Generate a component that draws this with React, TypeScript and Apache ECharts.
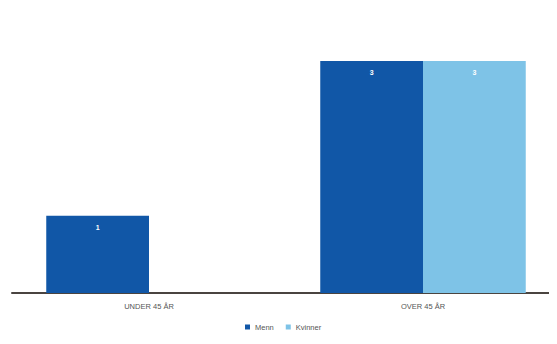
import React, { useEffect, useRef } from "react";
import * as echarts from "echarts";

const categories = ["UNDER 45 ÅR", "OVER 45 ÅR"];
const menn = [1, 3];
const kvinner = [0, 3];

export default function App() {
  const ref = useRef<HTMLDivElement>(null);
  useEffect(() => {
    if (!ref.current) return;
    const chart = echarts.init(ref.current, null, { renderer: "svg" });
    const label = {
      show: true,
      position: "insideTop",
      distance: 8,
      color: "#ffffff",
      fontSize: 7,
      fontWeight: "bold",
      fontFamily: "Liberation Sans",
      formatter: (p: any) => (p.value ? String(p.value) : ""),
    };
    chart.setOption({
      animation: false,
      backgroundColor: "#ffffff",
      grid: { left: 12, width: 548, top: 61, bottom: 51, containLabel: false },
      xAxis: {
        type: "category",
        data: categories,
        axisLine: { show: true, lineStyle: { color: "#4a4440", width: 2 } },
        axisTick: { show: false },
        axisLabel: {
          color: "#555555",
          fontSize: 7.5,
          fontFamily: "Liberation Sans",
          margin: 9,
        },
      },
      yAxis: {
        type: "value",
        min: 0,
        max: 3,
        show: false,
        splitLine: { show: false },
      },
      legend: {
        top: 318,
        left: 240,
        itemWidth: 5,
        itemHeight: 5,
        itemGap: 12,
        icon: "rect",
        textStyle: { color: "#555555", fontSize: 7.5, fontFamily: "Liberation Sans" },
        data: ["Menn", "Kvinner"],
      },
      series: [
        {
          name: "Menn",
          type: "bar",
          data: menn,
          itemStyle: { color: "#1157a7" },
          barGap: "0%",
          barCategoryGap: "25%",
          label,
        },
        {
          name: "Kvinner",
          type: "bar",
          data: kvinner,
          itemStyle: { color: "#7ec3e7" },
          barGap: "0%",
          barCategoryGap: "25%",
          label,
        },
      ],
    });
    return () => chart.dispose();
  }, []);
  return (
    <div style={{ width: 557, height: 344, margin: -8, overflow: "hidden" }}>
      <div ref={ref} style={{ width: 570, height: 344 }} />
    </div>
  );
}
